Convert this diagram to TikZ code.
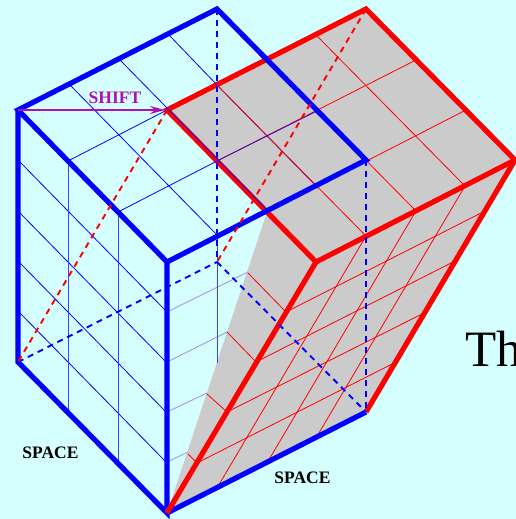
\documentclass[tikz,border=0pt]{standalone}
\usepackage{fontspec}
\setmainfont{Liberation Serif}
\definecolor{skybg}{HTML}{D5FFFF}
\definecolor{slab}{HTML}{CBCBCB}
\definecolor{shiftcol}{HTML}{B010B0}
\definecolor{palegrid}{HTML}{A898E0}
\definecolor{mixgrid}{HTML}{A01060}
\definecolor{mixblue}{HTML}{3010D0}
\usetikzlibrary{arrows.meta}
\tikzset{
  edgeblue/.style={draw=blue,line width=5.2pt},
  edgered/.style={draw=red,line width=5.2pt},
  gridblue/.style={draw=blue,line width=0.8pt},
  gridred/.style={draw=red,line width=0.8pt},
  hiddenblue/.style={draw=blue,line width=1.9pt,dash pattern=on 6pt off 5pt},
  hiddenred/.style={draw=red,line width=1.9pt,dash pattern=on 6pt off 5pt},
  caption/.style={font=\bfseries\fontsize{17.5}{17.5}\selectfont,inner sep=0pt}
}
\begin{document}
\begin{tikzpicture}[x=1pt,y=-1pt]
  \useasboundingbox (0,0) rectangle (516,519);
  \clip (0,0) rectangle (516,519);
  \fill[skybg] (0,0) rectangle (516,519);
  % blue box corners
  \coordinate (bl) at (18,110);
  \coordinate (bb) at (217,9);
  \coordinate (br) at (366,160);
  \coordinate (bf) at (167,262);
  \coordinate (dl) at (18,362);
  \coordinate (df) at (167,513);
  \coordinate (dr) at (366,412);
  \coordinate (dh) at (217,262);
  % sheared red top
  \coordinate (rl) at (167,110);
  \coordinate (rb) at (366,9);
  \coordinate (rr) at (515,160);
  \coordinate (rf) at (316,262);
  % grey slab
  \fill[slab] (rl) -- (rb) -- (rr) -- (dr) -- (df) -- (267,212) -- cycle;
  % red grid
  \foreach \x/\y in {217/85,267/60,316/35}
    \draw[gridred] (\x,\y) -- ++(149,151);
  \draw[gridred] (217,161) -- (416,60);
  \draw[gridred] (267,212) -- (466,110);
  \foreach \x/\y in {366/236,416/211,465/186}
    \draw[gridred] (\x,\y) -- ++(-149,252);
  \foreach \x/\y/\u/\v in {485/211/286/312,455/261/256/362,426/312/227/412,396/362/197/463}
    \draw[gridred] (\x,\y) -- (\u,\v);
  \foreach \x/\y/\u/\v in {248/273/286/312,227/332/256/362,207/394/227/412,188/454/197/463}
    \draw[gridred] (\x,\y) -- (\u,\v);
  % red outline
  \draw[edgered] (rl) -- (rb) -- (rr) -- (rf) -- cycle;
  \draw[edgered] (rr) -- (dr);
  % pale ends of the right face
  \foreach \y/\u/\v in {312/248/272,362/227/332,412/207/393,462/188/452}
    \draw[palegrid,line width=0.9pt] (167,\y) -- (\u,\v);
  % blue grid
  \foreach \y in {160,211,261,311}
    \draw[gridblue] (18,\y) -- ++(149,152);
  \draw[blue!75!white,line width=0.9pt] (68,161) -- (68,413);
  \draw[blue!75!white,line width=0.9pt] (118,212) -- (118,463);
  \draw[blue!75!white,line width=0.9pt] (217,237) -- (217,363);
  \draw[gridblue] (70,85) -- (219,237);
  \draw[gridblue] (120,60) -- (269,212);
  \draw[gridblue] (169,35) -- (217,85);
  \draw[mixgrid,line width=0.8pt] (217,85) -- (318,188);
  \draw[gridblue] (68,161) -- (167,110);
  \draw[gridblue] (118,212) -- (217,161);
  \draw[mixblue,line width=0.8pt] (217,161) -- (319,110);
  % blue outline
  \draw[edgeblue] (bl) -- (bb) -- (br) -- (bf) -- cycle;
  \draw[edgeblue] (bl) -- (dl) -- (df) -- (bf);
  \draw[edgeblue] (df) -- (dr);
  \draw[edgered] (rf) -- (df);
  % hidden edges
  \draw[hiddenblue] (bb) -- (dh);
  \draw[hiddenblue] (dl) -- (dh);
  \draw[hiddenblue] (dh) -- (dr);
  \draw[hiddenblue] (br) -- (dr);
  \draw[hiddenred] (rl) -- (dl);
  \draw[hiddenred] (rb) -- (dh);
  % shift arrow
  \draw[-{Stealth[length=15pt,width=8pt]},shiftcol,line width=1.5pt] (bl) -- (165,110);
  \node[caption,text=shiftcol] (shift) at (115,98) {SHIFT};
  \node[caption,text=black] (spaceleft) at (50.5,453) {SPACE};
  \node[caption,text=black] (spaceright) at (302.5,478) {SPACE};
  \node[anchor=base west,inner sep=0pt,font=\fontsize{51}{51}\selectfont] (title) at (465,366) {Th};
\end{tikzpicture}
\end{document}
